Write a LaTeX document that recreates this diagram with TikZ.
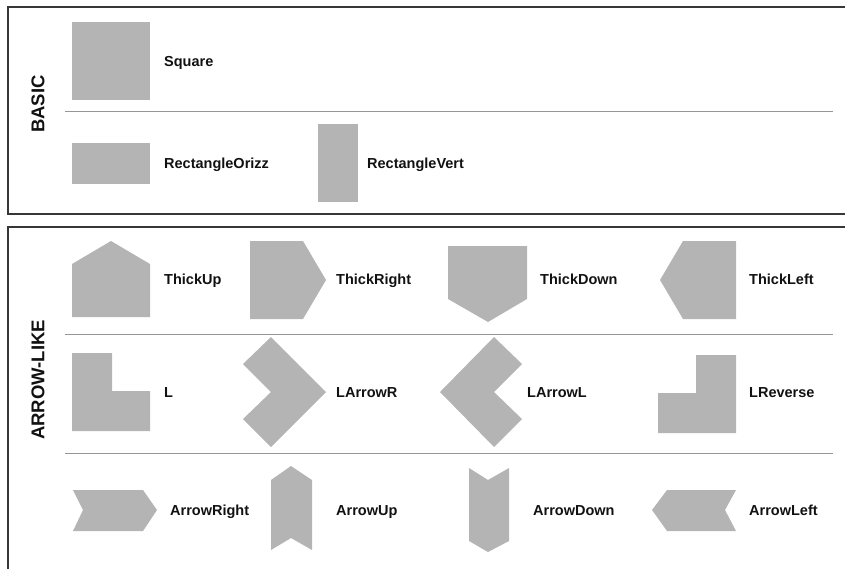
\documentclass[tikz,border=0pt]{standalone}
\usepackage{fontspec}
\setmainfont{Liberation Sans}
\usetikzlibrary{positioning}
\definecolor{shapegray}{RGB}{180,180,180}
\definecolor{sepgray}{RGB}{150,150,150}
\definecolor{framegray}{RGB}{55,55,55}
\definecolor{ink}{RGB}{17,17,17}
\begin{document}
\begin{tikzpicture}[x=1pt,y=-1pt,
  shp/.style={fill=shapegray},
  lbl/.style={anchor=base west,inner sep=0pt,text=ink,font=\fontsize{14.5}{16}\selectfont\bfseries},
  grp/.style={inner sep=0pt,text=ink,rotate=90,font=\fontsize{18.5}{20}\selectfont\bfseries},
  sep/.style={draw=sepgray,line width=1pt},
  frm/.style={draw=framegray,line width=1.4pt}]
\useasboundingbox (0,0) rectangle (845,568);
% frames
\draw[frm] (852,7)--(8,7)--(8,214)--(852,214);
\draw[frm] (852,227)--(8,227)--(8,575);
\draw[sep] (65,111)--(833,111);
\draw[sep] (65,334)--(833,334);
\draw[sep] (65,453)--(833,453);
\node[grp] (basic) at (38,104) {BASIC};
\node[grp] (arrowlike) at (38,380) {ARROW-LIKE};
% basic
\fill[shp] (72,22) rectangle (150,100);
\node[lbl] (square) at (164,66) {Square};
\fill[shp] (72,143) rectangle (150,184);
\node[lbl] (rectorizz) at (164,168) {RectangleOrizz};
\fill[shp] (318,124) rectangle (358,202);
\node[lbl] (rectvert) at (367,168) {RectangleVert};
% thick
\fill[shp] (111,241)--(150,264)--(150,317)--(72,317)--(72,264)--cycle;
\node[lbl] (thickup) at (164,284) {ThickUp};
\fill[shp] (250,241)--(303,241)--(326,280)--(303,319)--(250,319)--cycle;
\node[lbl] (thickright) at (336,284) {ThickRight};
\fill[shp] (448,246)--(527,246)--(527,299)--(488,322)--(448,299)--cycle;
\node[lbl] (thickdown) at (540,284) {ThickDown};
\fill[shp] (683,241)--(736,241)--(736,319)--(683,319)--(660,280)--cycle;
\node[lbl] (thickleft) at (749,284) {ThickLeft};
% L shapes
\fill[shp] (72,353)--(112,353)--(112,391)--(150,391)--(150,431)--(72,431)--cycle;
\node[lbl] (l) at (164,397) {L};
\fill[shp] (271,337)--(326,392)--(271,447)--(243,419)--(271,392)--(243,364)--cycle;
\node[lbl] (larrowr) at (336,397) {LArrowR};
\fill[shp] (494,337)--(522,364)--(494,392)--(522,419)--(494,447)--(440,392)--cycle;
\node[lbl] (larrowl) at (527,397) {LArrowL};
\fill[shp] (696,355)--(736,355)--(736,433)--(658,433)--(658,393)--(696,393)--cycle;
\node[lbl] (lreverse) at (749,397) {LReverse};
% arrows
\fill[shp] (73,490)--(143,490)--(157,510)--(143,531)--(73,531)--(83,510)--cycle;
\node[lbl] (arrowright) at (170,515) {ArrowRight};
\fill[shp] (291,466)--(312,480)--(312,550)--(291,538)--(271,550)--(271,480)--cycle;
\node[lbl] (arrowup) at (336,515) {ArrowUp};
\fill[shp] (469,468)--(488,480)--(509,468)--(509,541)--(488,552)--(469,541)--cycle;
\node[lbl] (arrowdown) at (533,515) {ArrowDown};
\fill[shp] (667,490)--(736,490)--(725,510)--(736,531)--(667,531)--(652,510)--cycle;
\node[lbl] (arrowleft) at (749,515) {ArrowLeft};
\end{tikzpicture}
\end{document}
